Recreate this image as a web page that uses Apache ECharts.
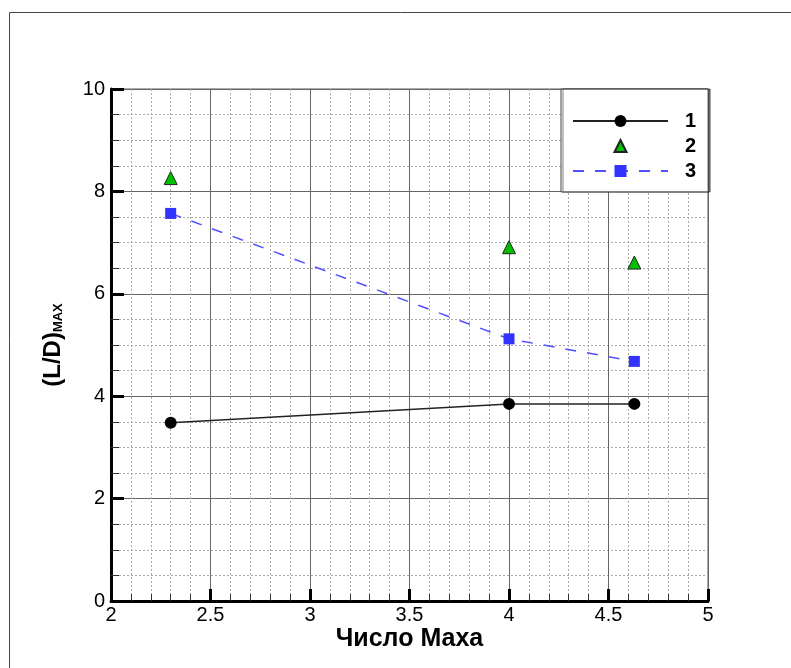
<!DOCTYPE html>
<html><head><meta charset="utf-8">
<script src="https://cdn.jsdelivr.net/npm/echarts@6/dist/echarts.min.js"></script>
<style>html,body{margin:0;padding:0;background:#fff}#c{width:791px;height:668px}</style>
</head><body><div id="c"></div>
<script>
const machX = [2.3, 4.0, 4.63];
const series1 = [3.48, 3.85, 3.85];
const series2 = [8.26, 6.91, 6.61];
const series3 = [7.57, 5.12, 4.68];
const seriesNames = ['1', '2', '3'];
const xTicks = [2, 2.5, 3, 3.5, 4, 4.5, 5];
const yTicks = [0, 2, 4, 6, 8, 10];

const pair = (xs, ys) => xs.map((x, i) => [x, ys[i]]);
const FONT = '"Liberation Sans", Arial, sans-serif';

const chart = echarts.init(document.getElementById('c'), null, {renderer: 'canvas'});
chart.setOption({
  backgroundColor: '#fff',
  animation: false,
  graphic: [{
    type: 'rect', left: 7, top: 10, z: -10,
    shape: {x: 0, y: 0, width: 900, height: 800},
    style: {fill: 'none', stroke: '#444', lineWidth: 1}
  }],
  grid: {left: 111, right: 83, top: 89, bottom: 67, show: true, borderColor: '#555', borderWidth: 1},
  xAxis: {
    type: 'value', min: 2, max: 5, interval: 0.5,
    name: 'Число Маха', nameLocation: 'middle', nameGap: 26, nameMoveOverlap: false,
    nameTextStyle: {fontFamily: FONT, fontSize: 25, fontWeight: 'bold', color: '#000'},
    axisLine: {show: true, onZero: false, lineStyle: {color: '#000', width: 3}},
    axisTick: {show: true, inside: true, length: 12, lineStyle: {color: '#000', width: 3}},
    minorTick: {show: true, splitNumber: 5, length: 7, lineStyle: {color: '#333', width: 1}},
    axisLabel: {fontFamily: FONT, fontSize: 20, color: '#000', margin: 4,
      formatter: v => xTicks.includes(v) ? String(v) : ''},
    splitLine: {show: true, lineStyle: {color: '#666', width: 1}},
    minorSplitLine: {show: true, lineStyle: {color: '#aaa', width: 1, type: [2, 2]}}
  },
  yAxis: {
    type: 'value', min: 0, max: 10, interval: 2,
    name: '{a|(L/D)}{b|MAX}', nameLocation: 'middle', nameGap: 46, nameRotate: 90, nameMoveOverlap: false,
    nameTextStyle: {
      rich: {
        a: {fontFamily: FONT, fontSize: 24, fontWeight: 'bold', color: '#000'},
        b: {fontFamily: FONT, fontSize: 13, fontWeight: 'bold', color: '#000', verticalAlign: 'bottom', padding: [9, 0, 0, 0]}
      }
    },
    axisLine: {show: true, lineStyle: {color: '#000', width: 3}},
    axisTick: {show: true, inside: true, length: 13, lineStyle: {color: '#000', width: 3}},
    minorTick: {show: true, splitNumber: 4, length: 8, lineStyle: {color: '#333', width: 1}},
    axisLabel: {fontFamily: FONT, fontSize: 20, color: '#000', margin: 6,
      formatter: v => yTicks.includes(v) ? String(v) : ''},
    splitLine: {show: true, lineStyle: {color: '#666', width: 1}},
    minorSplitLine: {show: true, lineStyle: {color: '#aaa', width: 1, type: [2, 2]}}
  },
  legend: {
    orient: 'vertical', left: 561, top: 89,
    padding: [22, 12, 11, 11],
    itemWidth: 95, itemHeight: 15, itemGap: 5,
    backgroundColor: '#fff', borderColor: '#444', borderWidth: 1,
    shadowColor: 'rgba(0,0,0,0.5)', shadowOffsetX: 2, shadowOffsetY: 0, shadowBlur: 0,
    textStyle: {fontFamily: FONT, fontSize: 20, fontWeight: 'bold', color: '#000', lineHeight: 18, padding: [0, 0, 0, 12]},
    data: seriesNames
  },
  series: [
    {
      name: seriesNames[0], type: 'line', data: pair(machX, series1),
      symbol: 'circle', symbolSize: 12,
      itemStyle: {color: '#000'},
      lineStyle: {color: '#222', width: 1.5}
    },
    {
      name: seriesNames[1], type: 'line', data: pair(machX, series2),
      symbol: 'triangle', symbolSize: 13,
      itemStyle: {color: '#00c000', borderColor: '#222', borderWidth: 1},
      lineStyle: {width: 0, opacity: 0}
    },
    {
      name: seriesNames[2], type: 'line', data: pair(machX, series3),
      symbol: 'rect', symbolSize: 11,
      itemStyle: {color: '#3333ff'},
      lineStyle: {color: '#5050ff', width: 1.5, type: [11, 11]}
    }
  ]
});
</script>
</body></html>
